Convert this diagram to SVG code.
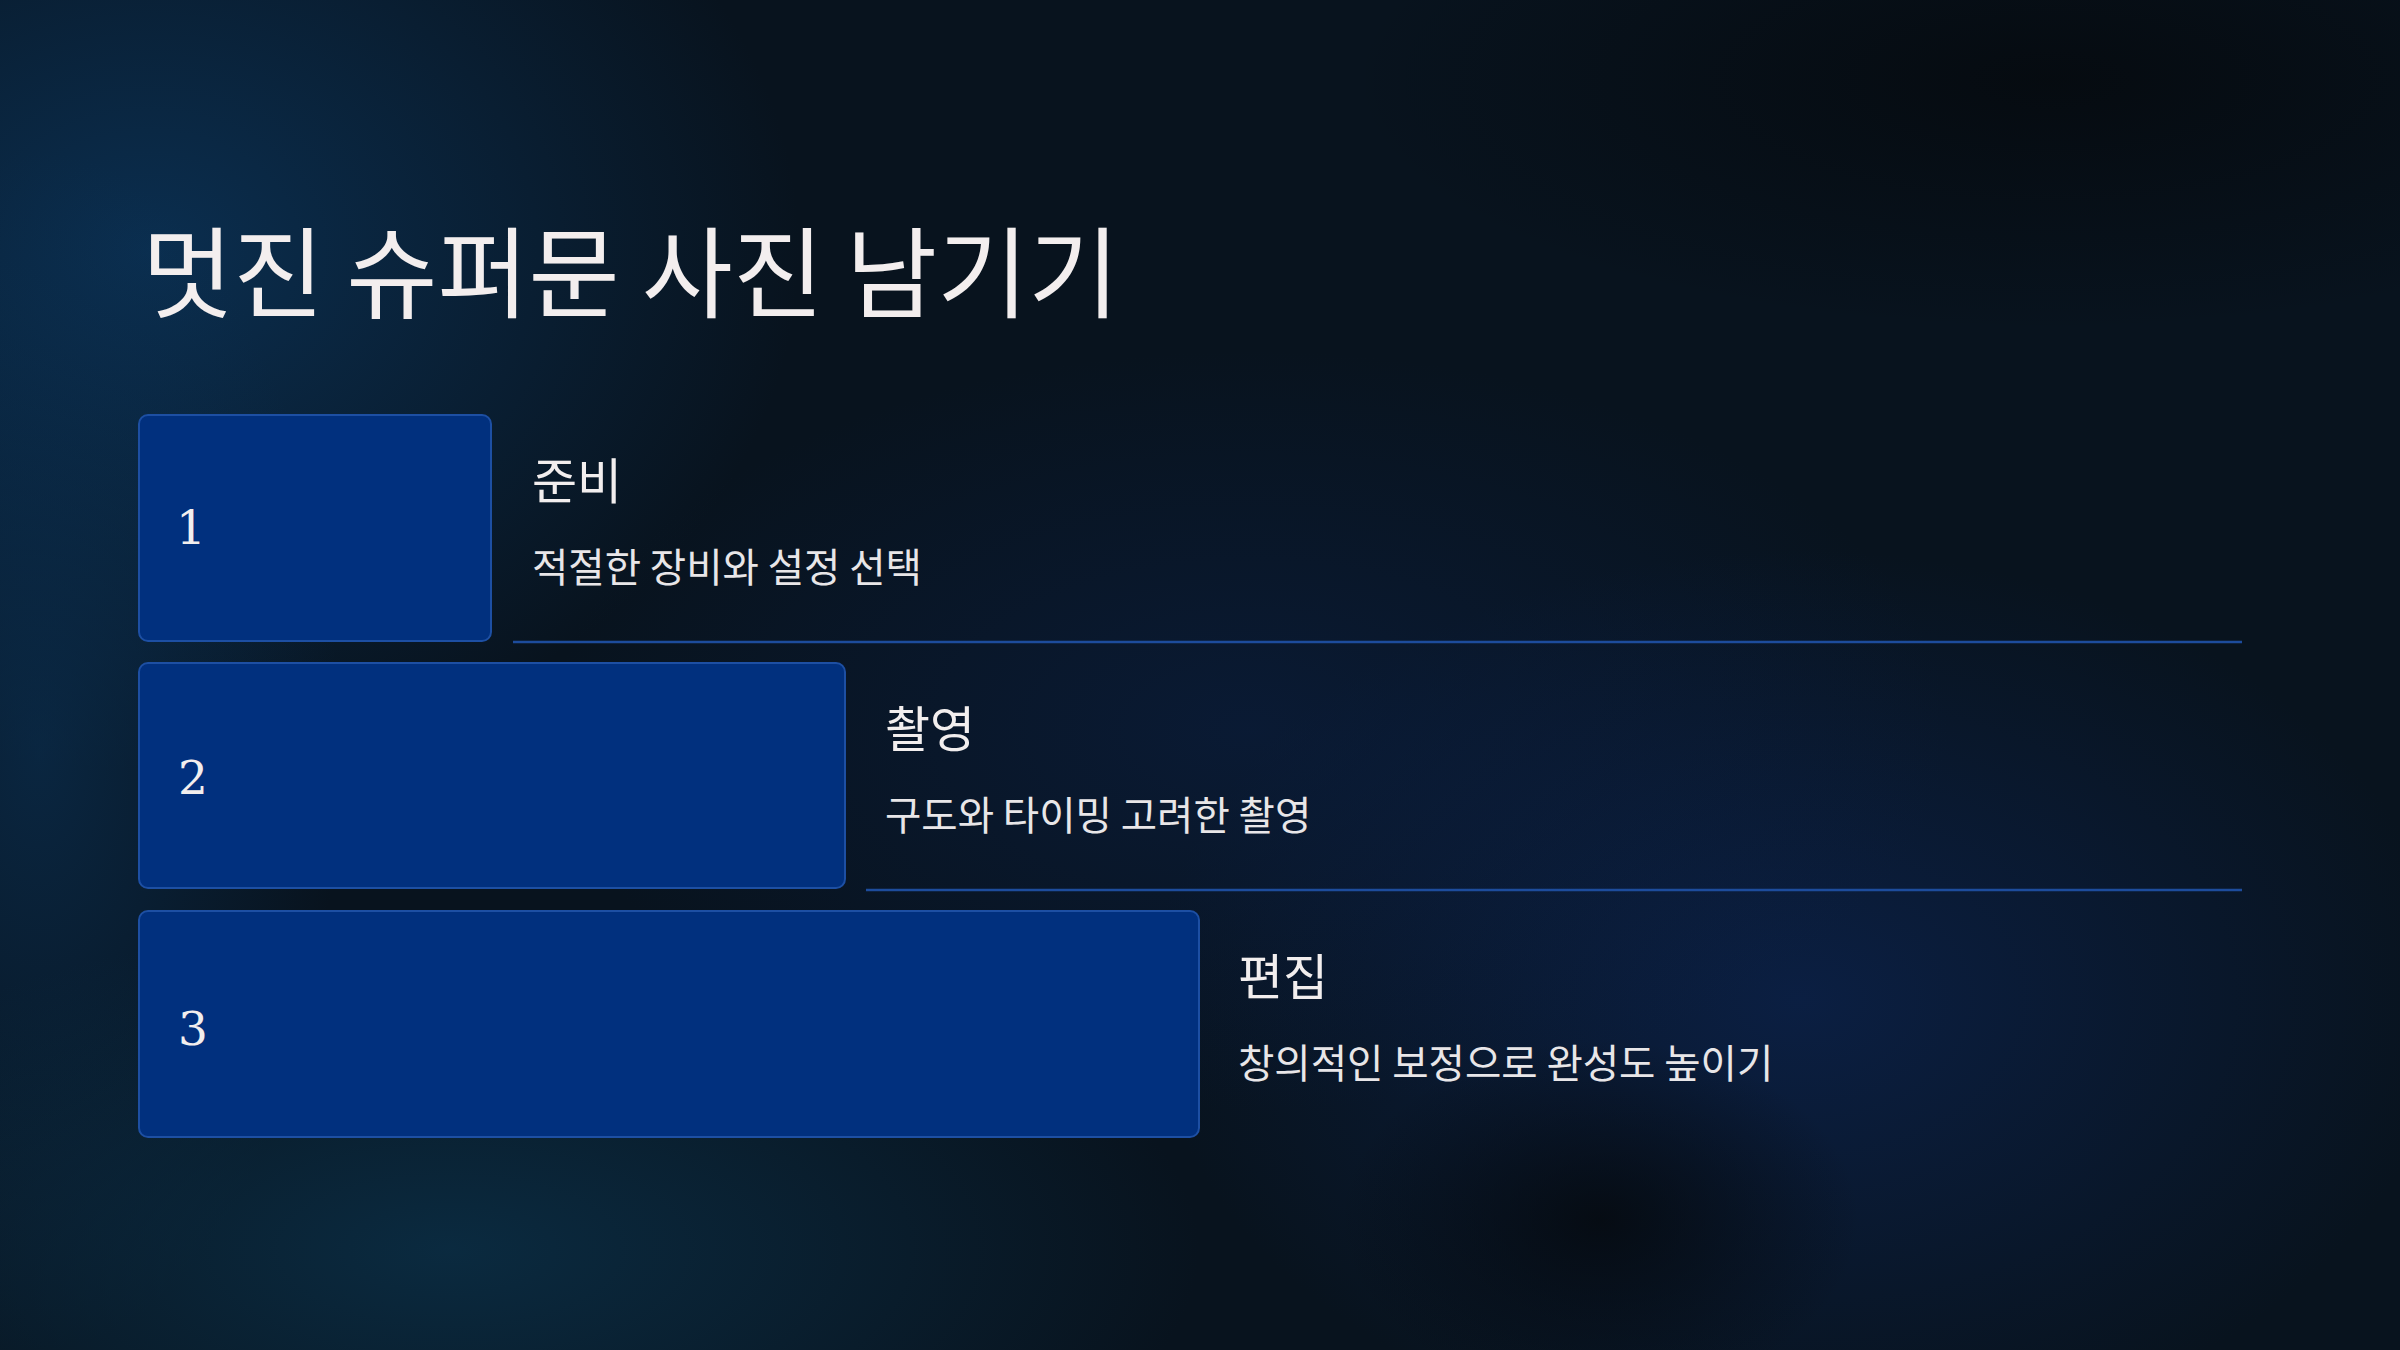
<svg xmlns="http://www.w3.org/2000/svg" width="2400" height="1350" viewBox="0 0 2400 1350">
<defs>
<radialGradient id="g1" cx="0.5" cy="0.5" r="0.5"><stop offset="0" stop-color="#0b3358" stop-opacity="0.85"/><stop offset="1" stop-color="#0b3358" stop-opacity="0"/></radialGradient>
<radialGradient id="g2" cx="0.5" cy="0.5" r="0.5"><stop offset="0" stop-color="#0b3048" stop-opacity="0.8"/><stop offset="1" stop-color="#0b3048" stop-opacity="0"/></radialGradient>
<radialGradient id="g3" cx="0.5" cy="0.5" r="0.5"><stop offset="0" stop-color="#0c2452" stop-opacity="0.7"/><stop offset="1" stop-color="#0c2452" stop-opacity="0"/></radialGradient>
<radialGradient id="g4" cx="0.5" cy="0.5" r="0.5"><stop offset="0" stop-color="#05090d" stop-opacity="0.8"/><stop offset="1" stop-color="#05090d" stop-opacity="0"/></radialGradient>
<style>
.box{fill:#01307e;stroke:#1d4fa3;stroke-width:2}
.num{font-family:"DejaVu Serif","Liberation Serif",serif;font-size:47px;fill:#f2eeee}
.ttl{font-family:"Noto Sans CJK KR","Noto Sans",sans-serif;font-size:49px;fill:#f2eeee}
.sub{font-family:"Noto Sans CJK KR","Noto Sans",sans-serif;font-size:39.5px;fill:#e8e6e8}
.sep{stroke:#1d4c9c;stroke-width:2.5}
</style>
</defs>
<rect width="2400" height="1350" fill="#08131e"/>
<ellipse cx="150" cy="250" rx="650" ry="520" fill="url(#g1)"/>
<ellipse cx="40" cy="750" rx="300" ry="600" fill="url(#g1)" opacity="0.7"/>
<ellipse cx="450" cy="1250" rx="750" ry="330" fill="url(#g2)"/>
<ellipse cx="1800" cy="1000" rx="650" ry="450" fill="url(#g3)"/>
<ellipse cx="1250" cy="730" rx="700" ry="380" fill="url(#g3)" opacity="0.6"/>
<ellipse cx="1600" cy="1220" rx="260" ry="180" fill="url(#g4)"/>
<ellipse cx="2050" cy="80" rx="700" ry="250" fill="url(#g4)"/>
<text x="142" y="310" font-family="'Noto Sans CJK KR','Noto Sans',sans-serif" font-size="99" fill="#f3eeee">멋진 슈퍼문 사진 남기기</text>
<g id="connectors">
<line class="sep" x1="513" y1="642" x2="2242" y2="642"/>
<line class="sep" x1="866" y1="890" x2="2242" y2="890"/>
</g>
<g id="step1">
<rect class="box" x="139" y="415" width="352" height="226" rx="9"/>
<text class="num" x="176" y="544">1</text>
<text class="ttl" x="532" y="499">준비</text>
<text class="sub" x="532" y="582">적절한 장비와 설정 선택</text>
</g>
<g id="step2">
<rect class="box" x="139" y="663" width="706" height="225" rx="9"/>
<text class="num" x="178" y="794">2</text>
<text class="ttl" x="885" y="747">촬영</text>
<text class="sub" x="885" y="830">구도와 타이밍 고려한 촬영</text>
</g>
<g id="step3">
<rect class="box" x="139" y="911" width="1060" height="226" rx="9"/>
<text class="num" x="178" y="1045">3</text>
<text class="ttl" x="1238" y="995">편집</text>
<text class="sub" x="1238" y="1078">창의적인 보정으로 완성도 높이기</text>
</g>
</svg>
